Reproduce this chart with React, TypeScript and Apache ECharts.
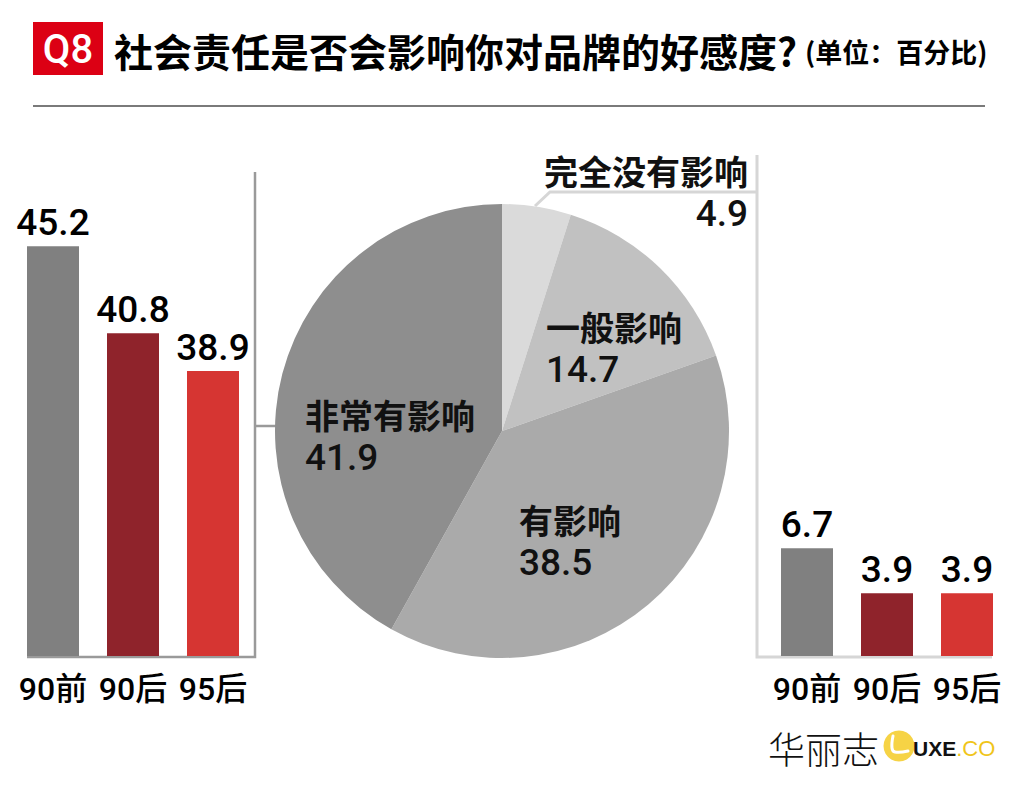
import React, { useEffect, useRef } from "react";
import * as echarts from "echarts";

const TITLE_TAG = "Q8";
const TITLE = "社会责任是否会影响你对品牌的好感度?";
const SUBTITLE = "(单位：百分比)";

const groups = ["90前", "90后", "95后"];
const veryMuchValues = [45.2, 40.8, 38.9];
const notAtAllValues = [6.7, 3.9, 3.9];

const pieNames = ["完全没有影响", "一般影响", "有影响", "非常有影响"];
const pieValues = [4.9, 14.7, 38.5, 41.9];

const BAR_COLORS = ["#808080", "#8f232b", "#d63532"];
const PIE_COLORS = ["#dadada", "#c1c1c1", "#aaaaaa", "#8e8e8e"];

const LOGO_CN = "华丽志";

const FONT = "Roboto, 'Liberation Sans', 'Noto Sans CJK SC', sans-serif";
const CJK = "'Noto Sans CJK SC', 'Liberation Sans', sans-serif";

const pieLabelPos = [
  { x: 748, y: 149, align: "right" },
  { x: 546, y: 305, align: "left" },
  { x: 519, y: 498, align: "left" },
  { x: 305, y: 393, align: "left" },
];

export default function App() {
  const ref = useRef<HTMLDivElement>(null);
  useEffect(() => {
    document.body.style.margin = "0";
    if (!ref.current) return;
    const chart = echarts.init(ref.current, null, { renderer: "svg" });

    const barLabel = {
      show: true,
      position: "top",
      distance: 5,
      fontSize: 37,
      fontWeight: 500,
      fontFamily: FONT,
      color: "#000",
    };
    const axisLabel = {
      interval: 0,
      fontSize: 32,
      fontFamily: FONT,
      fontWeight: 500,
      color: "#000",
      margin: 16,
      lineHeight: 34,
    };

    const option: any = {
      animation: false,
      backgroundColor: "#ffffff",
      grid: [
        { left: 13, width: 240, top: 171, height: 485 },
        { left: 767, width: 240, top: 157, height: 499 },
      ],
      xAxis: [
        {
          type: "category",
          gridIndex: 0,
          data: groups,
          axisLine: { show: false },
          axisTick: { show: false },
          axisLabel,
        },
        {
          type: "category",
          gridIndex: 1,
          data: groups,
          axisLine: { show: false },
          axisTick: { show: false },
          axisLabel,
        },
      ],
      yAxis: [
        { type: "value", gridIndex: 0, min: 24.5, max: 49, show: false },
        { type: "value", gridIndex: 1, min: 0, max: 31, show: false },
      ],
      series: [
        {
          type: "bar",
          xAxisIndex: 0,
          yAxisIndex: 0,
          barWidth: 52,
          data: veryMuchValues,
          itemStyle: { color: (p: any) => BAR_COLORS[p.dataIndex] },
          label: barLabel,
        },
        {
          type: "bar",
          xAxisIndex: 1,
          yAxisIndex: 1,
          barWidth: 52,
          data: notAtAllValues,
          itemStyle: { color: (p: any) => BAR_COLORS[p.dataIndex] },
          label: barLabel,
        },
        {
          type: "pie",
          center: [502, 431],
          radius: 227,
          startAngle: 90,
          clockwise: true,
          silent: true,
          data: pieNames.map((n, i) => ({
            name: n,
            value: pieValues[i],
            itemStyle: { color: PIE_COLORS[i] },
          })),
          label: {
            show: true,
            position: "inside",
            formatter: (p: any) => `{n|${p.name}}\n{v|${p.value}}`,
            rich: {
              n: {
                fontSize: 34,
                fontWeight: "bold",
                fontFamily: CJK,
                color: "#111",
                lineHeight: 42,
              },
              v: {
                fontSize: 37,
                fontWeight: 500,
                fontFamily: FONT,
                color: "#111",
                lineHeight: 44,
              },
            },
          },
          labelLine: { show: false },
          labelLayout: (params: any) => {
            const pos = pieLabelPos[params.dataIndex];
            return {
              x: pos.x,
              y: pos.y,
              align: pos.align,
              verticalAlign: "top",
            };
          },
        },
      ],
      graphic: [
        {
          type: "rect",
          shape: { x: 33, y: 22, width: 70, height: 53 },
          style: { fill: "#dc0014" },
        },
        {
          type: "text",
          x: 68,
          y: 49,
          style: {
            text: TITLE_TAG,
            fill: "#fff",
            font: `500 40px ${FONT}`,
            textAlign: "center",
            textVerticalAlign: "middle",
          },
        },
        {
          type: "text",
          x: 114,
          y: 50,
          style: {
            text: TITLE,
            fill: "#000",
            font: `bold 39px ${CJK}`,
            textAlign: "left",
            textVerticalAlign: "middle",
          },
        },
        {
          type: "text",
          x: 805,
          y: 51,
          style: {
            text: SUBTITLE,
            fill: "#000",
            font: `bold 27px ${CJK}`,
            textAlign: "left",
            textVerticalAlign: "middle",
          },
        },
        {
          type: "line",
          shape: { x1: 33, y1: 106, x2: 985, y2: 106 },
          style: { stroke: "#7a7a7a", lineWidth: 2 },
        },
        // left bracket
        {
          type: "polyline",
          shape: { points: [[255, 172], [255, 657], [27, 657]] },
          style: { stroke: "#9a9a9a", lineWidth: 2.5, fill: "none" },
        },
        {
          type: "line",
          shape: { x1: 255, y1: 426, x2: 276, y2: 426 },
          style: { stroke: "#9a9a9a", lineWidth: 2.5 },
        },
        // right bracket
        {
          type: "polyline",
          shape: { points: [[757, 155], [757, 657], [992, 657]] },
          style: { stroke: "#d6d6d6", lineWidth: 3, fill: "none" },
        },
        {
          type: "polyline",
          shape: { points: [[535, 206], [550, 192], [757, 192]] },
          style: { stroke: "#d6d6d6", lineWidth: 3, fill: "none" },
        },
        // logo
        {
          type: "text",
          x: 768,
          y: 748,
          style: {
            text: LOGO_CN,
            fill: "#111",
            font: `300 37px ${CJK}`,
            textAlign: "left",
            textVerticalAlign: "middle",
          },
        },
        {
          type: "circle",
          shape: { cx: 899, cy: 746, r: 15.5 },
          style: { fill: "#f6d345" },
        },
        {
          type: "polyline",
          shape: {
            points: [[893, 736], [892, 748], [895, 752], [908, 751]],
            smooth: 0.4,
          },
          style: { stroke: "#fff", lineWidth: 3, fill: "none", lineCap: "round" },
        },
        {
          type: "text",
          x: 913,
          y: 748,
          style: {
            text: "{a|UXE}{b|.CO}",
            textAlign: "left",
            textVerticalAlign: "middle",
            rich: {
              a: { fontSize: 21, fontWeight: "bold", fontFamily: "'Liberation Sans', sans-serif", fill: "#111" },
              b: { fontSize: 22, fontFamily: "'Liberation Sans', sans-serif", fill: "#f0c51c" },
            },
          },
        },
      ],
    };

    chart.setOption(option);
    return () => chart.dispose();
  }, []);

  return <div ref={ref} style={{ width: 1024, height: 789 }} />;
}
